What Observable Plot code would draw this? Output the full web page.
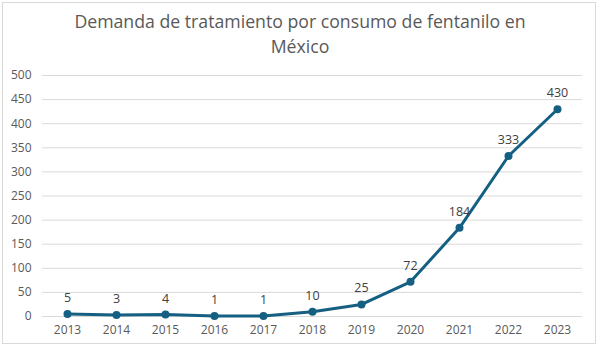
<!DOCTYPE html>
<html>
<head>
<meta charset="utf-8">
<script src="https://cdn.jsdelivr.net/npm/d3@7"></script>
<script src="https://cdn.jsdelivr.net/npm/@observablehq/plot@0.6"></script>
<style>
  html, body { margin: 0; padding: 0; background: #fff; }
  #wrap { position: relative; width: 600px; height: 349px; overflow: hidden; font-family: "Open Sans", sans-serif; }
  #frame { position: absolute; left: 2px; top: 2px; width: 594px; height: 342px; border: 1px solid #d9d9d9; box-sizing: border-box; }
  #title { position: absolute; left: 0; top: 9px; width: 600px; text-align: center; font-size: 17.7px; line-height: 25px; color: #595959; }
  #chart { position: absolute; left: 0; top: 60px; }
</style>
</head>
<body>
<div id="wrap">
  <div id="frame"></div>
  <div id="title">Demanda de tratamiento por consumo de fentanilo en<br>México</div>
  <div id="chart"></div>
</div>
<script>
const years = ["2013","2014","2015","2016","2017","2018","2019","2020","2021","2022","2023"];
const values = [5, 3, 4, 1, 1, 10, 25, 72, 184, 333, 430];
const yTicks = [0, 50, 100, 150, 200, 250, 300, 350, 400, 450, 500];

const data = years.map((y, i) => ({year: y, value: values[i]}));
const color = "#156082";

const plot = Plot.plot({
  width: 600,
  height: 285,
  marginLeft: 42,
  marginRight: 18,
  marginTop: 15,
  marginBottom: 29,
  style: { fontFamily: "'Open Sans', sans-serif", fontSize: "12px", color: "#595959", background: "transparent" },
  x: { type: "point", domain: years, padding: 0.5, label: null },
  y: { domain: [0, 500], ticks: yTicks, label: null },
  marks: [
    Plot.gridY(yTicks, { stroke: "#d9d9d9", strokeOpacity: 1, strokeWidth: 1 }),
    Plot.axisY(yTicks, { tickSize: 0, tickPadding: 11, label: null, fill: "#595959", fontSize: 12 }),
    Plot.axisX({ tickSize: 0, tickPadding: 9, label: null, fill: "#595959", fontSize: 12 }),
    Plot.line(data, { x: "year", y: "value", stroke: color, strokeWidth: 3, strokeLinejoin: "round" }),
    Plot.dot(data, { x: "year", y: "value", r: 4, fill: color, stroke: null }),
    Plot.text(data, { x: "year", y: "value", text: d => String(d.value), dy: -16, fill: "#404040", fontSize: 12.5 })
  ]
});
document.getElementById("chart").appendChild(plot);
</script>
</body>
</html>
